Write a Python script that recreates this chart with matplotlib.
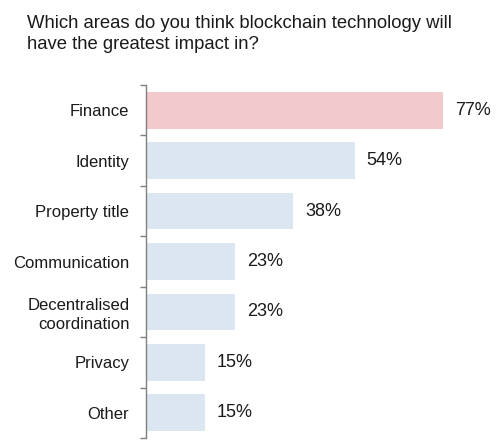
import matplotlib
matplotlib.use('Agg')
import matplotlib.pyplot as plt
import numpy as np

# Survey data
categories = ['Finance', 'Identity', 'Property title', 'Communication',
              'Decentralised\ncoordination', 'Privacy', 'Other']
values = [77, 54, 38, 23, 23, 15, 15]
highlight = 'Finance'

title = 'Which areas do you think blockchain technology will\nhave the greatest impact in?'

plt.rcParams['font.family'] = ['Liberation Sans', 'DejaVu Sans']

fig = plt.figure(figsize=(4.98, 4.44), dpi=100)
W, H = 498, 444
ax_left, ax_right = 146, 498
ax_top, ax_bottom = 85, 438
ax = fig.add_axes([ax_left / W, 1 - ax_bottom / H,
                   (ax_right - ax_left) / W, (ax_bottom - ax_top) / H])

px_per_pct = 3.84
ax.set_xlim(0, (ax_right - ax_left) / px_per_pct)

y = np.arange(len(categories))
colors = ['#F2C9CC' if c == highlight else '#DCE6F1' for c in categories]
ax.barh(y, values, height=0.73, color=colors, left=0.3)

for yi, v in zip(y, values):
    ax.annotate(f'{v}%', xy=(v + 0.3, yi), xytext=(8.5, 0), textcoords='offset points',
                va='center', ha='left', fontsize=13, color='#1a1a1a')

ax.set_ylim(len(categories) - 0.5, -0.5)
ax.set_yticks(y)
ax.set_yticklabels(categories, fontsize=12, color='#1a1a1a', linespacing=1.3)
ax.set_yticks(np.arange(-0.5, len(categories), 1.0), minor=True)
ax.tick_params(axis='y', which='major', length=0, pad=12)
ax.tick_params(axis='y', which='minor', length=4, width=1, color='#7f7f7f', direction='out')

for s in ['top', 'right', 'bottom']:
    ax.spines[s].set_visible(False)
ax.spines['left'].set_color('#7f7f7f')
ax.spines['left'].set_linewidth(1)
ax.set_xticks([])

fig.text(27 / W, 1 - 15 / H, title, ha='left', va='top', fontsize=13.3,
         color='#1a1a1a', linespacing=1.3)

fig.savefig('out.png', dpi=100)
